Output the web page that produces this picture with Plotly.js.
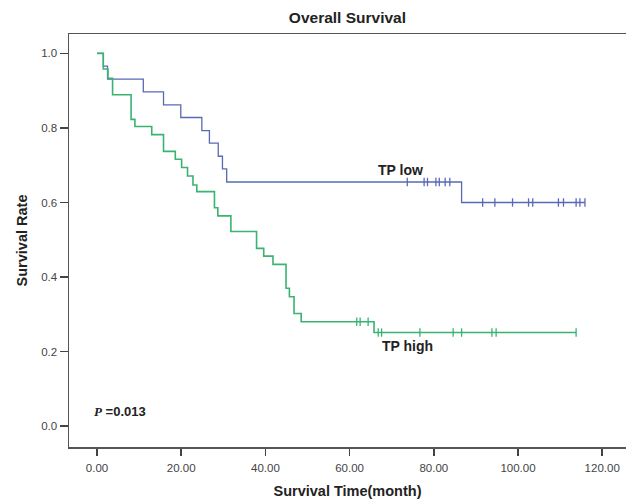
<!DOCTYPE html>
<html>
<head>
<meta charset="utf-8">
<script src="https://cdn.plot.ly/plotly-3.0.1.min.js"></script>
<style>html,body{margin:0;padding:0;background:#fff;}#chart{width:626px;height:503px;}</style>
</head>
<body>
<div id="chart"></div>
<script>
// TP low (blue) Kaplan-Meier steps
var lowTimes = [0, 1.5, 2.5, 11.0, 15.8, 19.9, 24.9, 26.7, 28.8, 29.8, 30.8, 86.6];
var lowSurv  = [1.0, 0.966, 0.931, 0.897, 0.862, 0.828, 0.793, 0.759, 0.724, 0.690, 0.655, 0.600];
var lowCensor = [73.7, 77.7, 78.5, 80.5, 81.3, 82.7, 83.8, 91.6, 94.5, 98.7, 102.5, 103.5, 109.6, 110.8, 113.8, 114.7, 115.9];

// TP high (green) Kaplan-Meier steps
var highTimes = [0, 1.5, 2.6, 3.7, 8.1, 9.0, 13.0, 15.8, 18.6, 20.1, 21.5, 22.8, 23.7, 27.9, 28.7, 31.8, 37.9, 39.6, 41.8, 44.9, 45.7, 46.8, 48.5, 65.8];
var highSurv  = [1.0, 0.958, 0.933, 0.889, 0.823, 0.804, 0.782, 0.737, 0.716, 0.694, 0.671, 0.647, 0.629, 0.586, 0.564, 0.522, 0.477, 0.456, 0.434, 0.370, 0.347, 0.302, 0.280, 0.251];
var highCensor = [61.7, 62.5, 64.4, 66.8, 67.6, 76.7, 84.6, 86.6, 93.8, 94.8, 113.8];

var xTicks = [0, 20, 40, 60, 80, 100, 120];
var yTicks = [0.0, 0.2, 0.4, 0.6, 0.8, 1.0];

var blue = '#5a69b6';
var green = '#38b470';

function survAt(times, surv, t) {
  var s = surv[0];
  for (var i = 0; i < times.length; i++) { if (times[i] <= t) s = surv[i]; }
  return s;
}
function curve(times, surv, censor) {
  var last = Math.max(times[times.length - 1], censor[censor.length - 1]);
  var xs = times.slice(), ys = surv.slice();
  xs.push(last); ys.push(surv[surv.length - 1]);
  return {x: xs, y: ys};
}
var lowC = curve(lowTimes, lowSurv, lowCensor);
var highC = curve(highTimes, highSurv, highCensor);

var traces = [
  {x: lowC.x, y: lowC.y, mode: 'lines', line: {shape: 'hv', color: blue, width: 1.3}, hoverinfo: 'skip'},
  {x: highC.x, y: highC.y, mode: 'lines', line: {shape: 'hv', color: green, width: 1.6}, hoverinfo: 'skip'},
  {x: lowCensor, y: lowCensor.map(function(t){return survAt(lowTimes, lowSurv, t);}), mode: 'markers',
   marker: {symbol: 'line-ns-open', size: 6, color: blue, line: {color: blue, width: 1.3}}, hoverinfo: 'skip'},
  {x: highCensor, y: highCensor.map(function(t){return survAt(highTimes, highSurv, t);}), mode: 'markers',
   marker: {symbol: 'line-ns-open', size: 6, color: green, line: {color: green, width: 1.3}}, hoverinfo: 'skip'}
];

var layout = {
  width: 626, height: 503,
  margin: {l: 69, r: 0, t: 34, b: 56},
  paper_bgcolor: '#fff', plot_bgcolor: '#fff',
  showlegend: false,
  font: {family: 'Liberation Sans, Arial, sans-serif', color: '#333'},
  title: {text: '<b>Overall Survival</b>', font: {size: 15.5, color: '#222'}, x: 0.555, xanchor: 'center', y: 0.965, yanchor: 'middle'},
  xaxis: {
    range: [-6.65, 125.65], tickvals: xTicks, tickformat: '.2f',
    ticks: 'outside', ticklen: 7, tickwidth: 1.5, tickcolor: '#444',
    showline: true, linecolor: '#555', linewidth: 1.5, mirror: true,
    showgrid: false, zeroline: false, ticklabelstandoff: 3,
    tickfont: {size: 11.5, color: '#444'},
    title: {text: '<b>Survival Time(month)</b>', font: {size: 14.5, color: '#222'}, standoff: 12}
  },
  yaxis: {
    range: [-0.056, 1.052], tickvals: yTicks, tickformat: '.1f',
    ticks: 'outside', ticklen: 8, tickwidth: 1.5, tickcolor: '#444',
    showline: true, linecolor: '#555', linewidth: 1.5, mirror: true,
    showgrid: false, zeroline: false,
    tickfont: {size: 11.5, color: '#444'},
    title: {text: '<b>Survival Rate</b>', font: {size: 14.5, color: '#222'}, standoff: 10}
  },
  annotations: [
    {x: 72.0, y: 0.686, xref: 'x', yref: 'y', text: '<b>TP low</b>', showarrow: false, font: {size: 14, color: '#222'}},
    {x: 73.8, y: 0.214, xref: 'x', yref: 'y', text: '<b>TP high</b>', showarrow: false, font: {size: 14, color: '#222'}},
    {x: -1.2, y: 0.040, xref: 'x', yref: 'y', xanchor: 'left', showarrow: false,
     text: '<b><i><span style="font-family:Liberation Serif">P</span></i> =0.013</b>', font: {size: 13, color: '#222'}}
  ]
};

Plotly.newPlot('chart', traces, layout, {staticPlot: true, displayModeBar: false});
</script>
</body>
</html>
